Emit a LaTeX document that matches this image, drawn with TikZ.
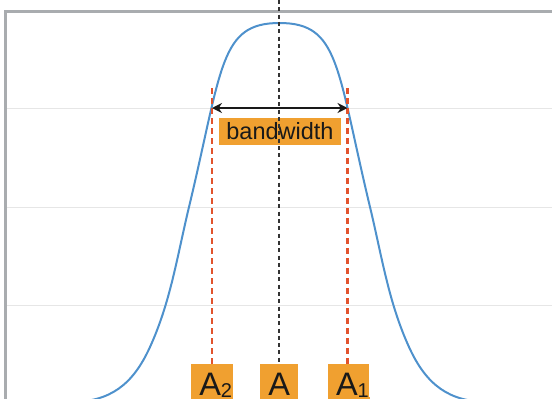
\documentclass[tikz,border=0pt]{standalone}
\usepackage{fontspec}
\setmainfont{Liberation Sans}
\usetikzlibrary{arrows.meta}
\definecolor{framegray}{HTML}{A9ACAF}
\definecolor{gridgray}{HTML}{E6E6E6}
\definecolor{curveblue}{HTML}{4E91CC}
\definecolor{boxorange}{HTML}{F0A030}
\definecolor{dashred}{HTML}{E2532D}
\definecolor{dashblack}{HTML}{333333}
\begin{document}
\begin{tikzpicture}[x=1pt,y=-1pt,
  gridline/.style={gridgray,line width=1pt},
  frameline/.style={framegray,line width=2.5pt},
  curve/.style={curveblue,line width=2pt,line join=round},
  reddash/.style={dashred,line width=2.2pt,dash pattern=on 5.5pt off 4.5pt},
  blackdash/.style={dashblack,line width=1.8pt,dash pattern=on 4pt off 3.3pt},
  bwarrow/.style={black!90,line width=2pt,{Stealth[length=10pt,width=10pt]}-{Stealth[length=10pt,width=10pt]}},
  bwbox/.style={fill=boxorange,inner sep=0pt,minimum width=122pt,minimum height=27pt,
    font=\fontsize{23.5}{27}\selectfont,text=black!90},
  abox/.style={fill=boxorange,inner xsep=0pt,inner ysep=0pt,anchor=north,
    text height=31pt,text depth=2.5pt,font=\fontsize{32.5}{36}\selectfont,text=black!90},
  subnum/.style={}]
\useasboundingbox (0,0) rectangle (552,399);
\clip (0,0) rectangle (552,399);
% grid lines
\foreach \gy in {108,207,305} \draw[gridline] (5.5,\gy) -- (552,\gy);
% frame
\draw[frameline] (552,11.5) -- (5.5,11.5) -- (5.5,399);
% curve
\draw[curve] (0,404) .. controls (30,404) and (50,402) .. (70,402)
  .. controls (110,402) and (132.7,385) .. (150,347)
  .. controls (170.5,302) and (177,257) .. (189,207)
  .. controls (222.6,67) and (219.5,23) .. (279.5,23)
  .. controls (339.5,23) and (336.4,67) .. (370,207)
  .. controls (382,257) and (388.5,302) .. (409,347)
  .. controls (426.3,385) and (449,402) .. (489,402)
  .. controls (509,402) and (529,404) .. (559,404);
% nodes
\node[bwbox] (bw) at (280,131.5) {bandwidth};
\node[abox] (A2) at (212,364) {\makebox[42pt][l]{\hspace{8.3pt}A\raisebox{-2pt}{\fontsize{20}{20}\selectfont 2}}};
\node[abox] (A) at (278.85,364) {\makebox[37.7pt][l]{\hspace{8.3pt}A}};
\node[abox] (A1) at (348.5,364) {\makebox[41.6pt][l]{\hspace{8.3pt}A\raisebox{-2pt}{\fontsize{20}{20}\selectfont 1}}};
% box extensions below the picture edge
\foreach \n in {A2,A,A1}
  \fill[boxorange] ([yshift=0.5pt]\n.south west) rectangle ([yshift=-12pt]\n.south east);
% dashed lines
\coordinate (Atop) at (279,0);
\coordinate (A2top) at (212,88);
\coordinate (A1top) at (347.5,88);
\draw[blackdash] (Atop) -- (Atop |- A.north);
\draw[reddash] (A2top) -- (A2top |- A2.north);
\draw[reddash] (A1top) -- (A1top |- A1.north);
% bandwidth arrow
\coordinate (L) at (212,108);
\coordinate (R) at (347.5,108);
\draw[bwarrow] (L) -- (R);
\end{tikzpicture}
\end{document}
